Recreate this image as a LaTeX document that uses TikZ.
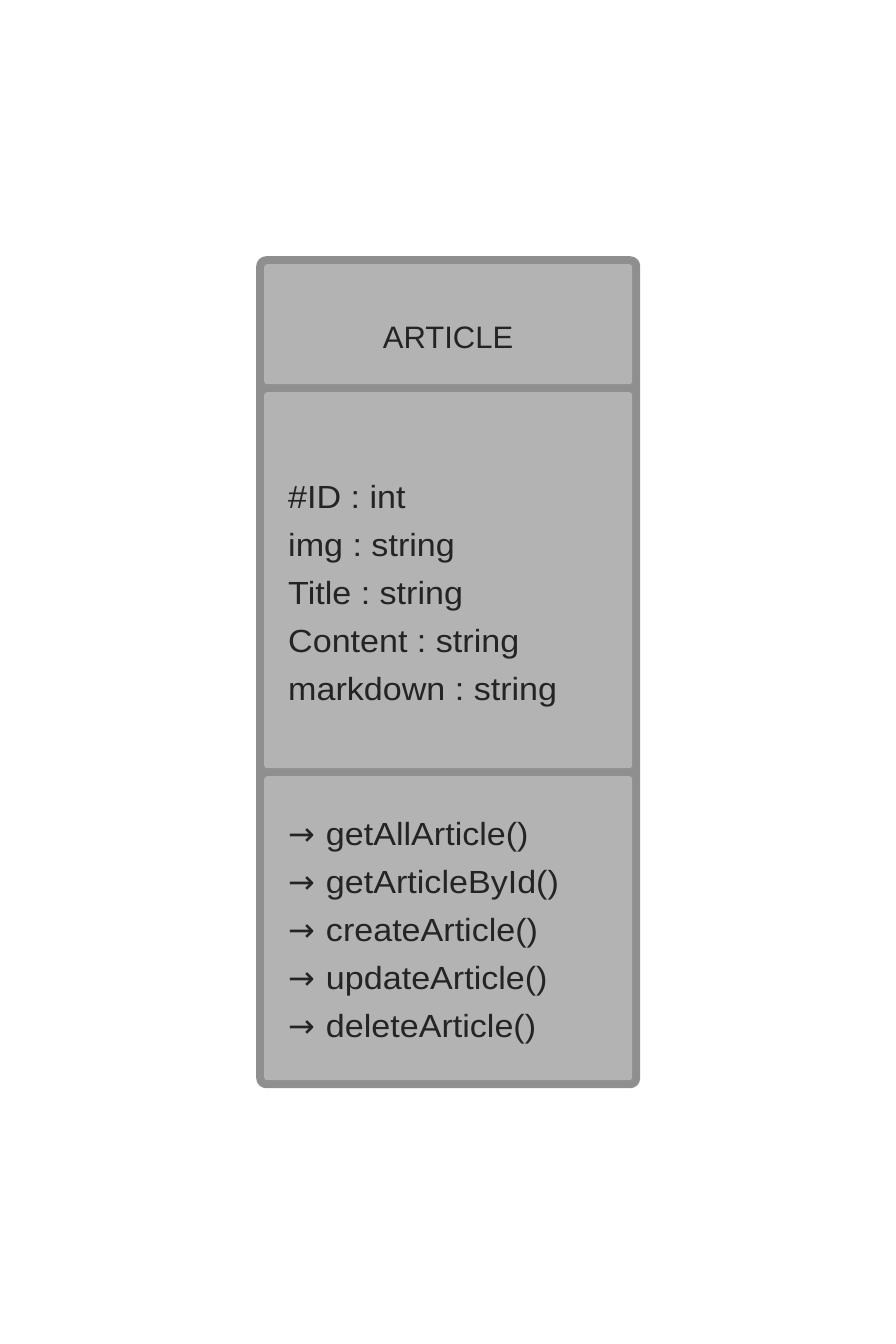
\documentclass[tikz,border=0pt]{standalone}
\usepackage{fontspec}
\setmainfont{Liberation Sans}
\newfontfamily\bodyfont[FakeStretch=1.065]{Liberation Sans}
\newfontfamily\arrowfont{DejaVu Sans}
\definecolor{bordergray}{HTML}{8F8F8F}
\definecolor{panelgray}{HTML}{B3B3B3}
\definecolor{textgray}{HTML}{242424}
\newcommand{\marr}{{\arrowfont\fontsize{32}{38}\selectfont →}\hspace{1.5pt}}
\begin{document}
\frenchspacing
\begin{tikzpicture}[x=1pt,y=-1pt,
  outerbox/.style={draw=none,fill=bordergray,rounded corners=10pt,inner sep=0pt,anchor=north west},
  panel/.style={draw=none,fill=panelgray,rounded corners=3pt,inner sep=0pt,anchor=north west,minimum width=368pt},
  txt/.style={text=textgray,inner sep=0pt,anchor=base west,font=\bodyfont\fontsize{32}{38}\selectfont},
  title/.style={text=textgray,inner sep=0pt,anchor=base,font=\fontsize{31}{38}\selectfont}
]
\useasboundingbox[fill=white] (0,0) rectangle (896,1344);
\node[outerbox,minimum width=384pt,minimum height=832pt] (outer) at (256,256) {};
\node[panel,minimum height=120pt] (head) at (264,264) {};
\node[panel,minimum height=376pt] (attrs) at (264,392) {};
\node[panel,minimum height=304pt] (meths) at (264,776) {};
\node[title] (name) at (448,348) {ARTICLE};
\node[txt] (a1) at (288,508) {\#ID : int};
\node[txt] (a2) at (288,556) {img : string};
\node[txt] (a3) at (288,604) {Title : string};
\node[txt] (a4) at (288,652) {Content : string};
\node[txt] (a5) at (288,700) {markdown : string};
\node[txt] (m1) at (288,845) {\marr{} getAllArticle()};
\node[txt] (m2) at (288,893) {\marr{} getArticleById()};
\node[txt] (m3) at (288,941) {\marr{} createArticle()};
\node[txt] (m4) at (288,989) {\marr{} updateArticle()};
\node[txt] (m5) at (288,1037) {\marr{} deleteArticle()};
\end{tikzpicture}
\end{document}
